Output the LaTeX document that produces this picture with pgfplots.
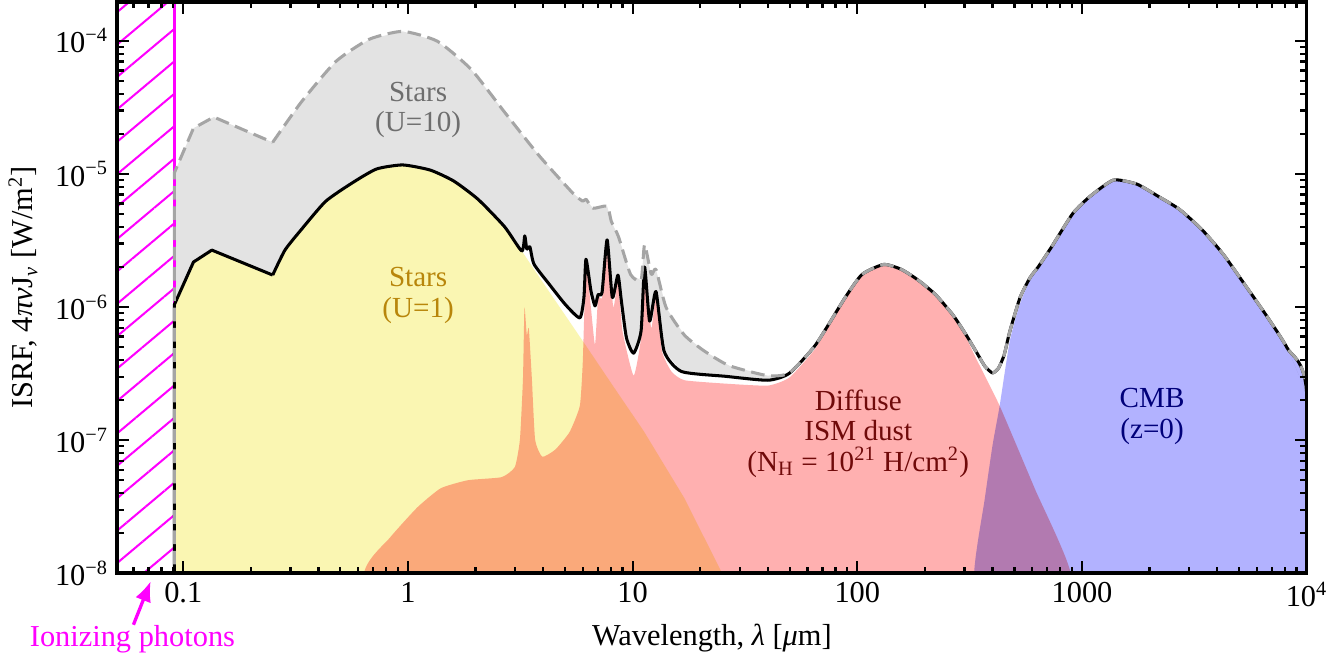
\documentclass[border=0pt]{standalone}
\usepackage{fontspec}
\setmainfont{Liberation Serif}
\usepackage{pgfplots}
\pgfplotsset{compat=1.18}
\usepackage{pgfplotstable}
\usetikzlibrary{patterns.meta,arrows.meta}

\definecolor{greyfill}{HTML}{E3E3E3}
\definecolor{greyline}{HTML}{A5A5A5}
\definecolor{starfill}{HTML}{FAF6B2}
\definecolor{dustfill}{HTML}{FFB0B0}
\definecolor{cmbfill}{HTML}{B2B2FF}
\definecolor{txtgrey}{HTML}{6E6E6E}
\definecolor{txtgold}{HTML}{B8860B}
\definecolor{txtdust}{HTML}{700A0A}
\definecolor{txtcmb}{HTML}{00007A}
\definecolor{mag}{RGB}{255,0,255}

% stellar ISRF, U=1
\pgfplotstableread{
x y
0.0912 1e-9
0.0912 1.04e-6
0.111 2.18e-6
0.134 2.68e-6
0.250 1.74e-6
0.2835 2.68e-6
0.335 3.82e-6
0.430 6.23e-6
0.564 8.56e-6
0.724 1.09e-5
0.948 1.17e-5
1.257 1.07e-5
1.598 8.86e-6
2.05 6.46e-6
2.69 4.02e-6
3.21 2.64e-6
3.84 1.68e-6
6.0 5.55e-7
8.47 2.34e-7
11.2 1.17e-7
17.0 3.66e-8
25.0 1.0e-8
33.0 1e-9
}\stars

% total, U=1
\pgfplotstableread{
x y
0.0912 1e-9
0.0912 1.04e-6
0.111 2.18e-6
0.134 2.68e-6
0.250 1.74e-6
0.2835 2.68e-6
0.335 3.82e-6
0.430 6.23e-6
0.564 8.56e-6
0.724 1.09e-5
0.948 1.17e-5
1.257 1.07e-5
1.598 8.86e-6
2.05 6.46e-6
2.69 4.02e-6
3.21 2.64e-6
3.31 3.43e-6
3.38 2.73e-6
3.49 2.83e-6
3.64 2.10e-6
4.26 1.48e-6
5.03 1.04e-6
5.82 8.3e-7
6.07 1.18e-6
6.2 2.29e-6
6.52 1.33e-6
6.80 1.02e-6
7.02 1.24e-6
7.31 1.29e-6
7.7 3.2e-6
8.12 1.18e-6
8.6 1.74e-6
8.91 1.11e-6
9.39 5.85e-7
10.1 4.5e-7
10.9 6.6e-7
11.3 2.0e-6
11.9 7.85e-7
12.7 1.31e-6
13.8 4.67e-7
16.5 3.28e-7
25.8 3.02e-7
40.0 2.82e-7
49.8 3.18e-7
65.2 5.2e-7
88.3 1.18e-6
105 1.76e-6
131 2.09e-6
157 1.92e-6
187 1.59e-6
223 1.24e-6
266 8.75e-7
302 6.35e-7
340 4.55e-7
370 3.58e-7
400 3.2e-7
425 3.48e-7
450 4.35e-7
477 6.55e-7
530 1.18e-6
588 1.67e-6
638 2.0e-6
731 2.82e-6
910 5.05e-6
1087 6.8e-6
1380 9.0e-6
1754 8.4e-6
2183 6.8e-6
2718 5.42e-6
3420 3.82e-6
4256 2.49e-6
5297 1.48e-6
6592 8.72e-7
8204 4.9e-7
10000 2.23e-7
10000 1e-9
}\totalone

% total, U=10
\pgfplotstableread{
x y
0.0912 1e-9
0.0912 1.02e-5
0.111 2.21e-5
0.1367 2.68e-5
0.250 1.73e-5
0.335 3.47e-5
0.478 7.02e-5
0.673 1.03e-4
0.948 1.18e-4
1.352 9.95e-5
1.91 6.12e-5
2.69 2.92e-5
3.84 1.37e-5
5.41 7.2e-6
6.0 6.25e-6
6.2 6.47e-6
6.66 5.53e-6
7.7 5.73e-6
8.04 4.4e-6
8.65 3.38e-6
9.79 1.76e-6
10.9 1.59e-6
11.3 2.94e-6
12.1 1.76e-6
12.7 1.92e-6
14.1 9.9e-7
17.0 6.16e-7
20.9 4.66e-7
26.9 3.63e-7
40.0 3.05e-7
49.8 3.2e-7
65.2 5.2e-7
88.3 1.18e-6
105 1.76e-6
131 2.09e-6
157 1.92e-6
187 1.59e-6
223 1.24e-6
266 8.75e-7
302 6.35e-7
340 4.55e-7
370 3.58e-7
400 3.2e-7
425 3.48e-7
450 4.35e-7
477 6.55e-7
530 1.18e-6
588 1.67e-6
638 2.0e-6
731 2.82e-6
910 5.05e-6
1087 6.8e-6
1380 9.0e-6
1754 8.4e-6
2183 6.8e-6
2718 5.42e-6
3420 3.82e-6
4256 2.49e-6
5297 1.48e-6
6592 8.72e-7
8204 4.9e-7
10000 2.23e-7
10000 1e-9
}\totalten

% diffuse ISM dust
\pgfplotstableread{
x y
0.638 1e-9
0.638 1.0e-8
0.829 1.84e-8
1.10 3.12e-8
1.40 4.35e-8
1.85 5.0e-8
2.61 5.27e-8
2.99 6.28e-8
3.15 1.01e-7
3.25 2.9e-7
3.30 9.9e-7
3.38 6.15e-7
3.45 6.95e-7
3.56 2.9e-7
3.68 1.01e-7
3.96 7.5e-8
4.53 8.5e-8
5.24 1.15e-7
5.82 1.81e-7
6.0 3.9e-7
6.2 2.1e-6
6.52 9.9e-7
6.80 5.2e-7
7.02 1.18e-6
7.31 1.18e-6
7.7 2.94e-6
8.20 1.0e-6
8.6 1.54e-6
9.01 6.6e-7
10.1 3.05e-7
10.9 5.85e-7
11.3 1.77e-6
12.1 6.95e-7
12.7 1.23e-6
13.5 4.67e-7
14.9 3.27e-7
17.0 2.82e-7
25.8 2.66e-7
40.0 2.57e-7
49.8 2.95e-7
65.2 4.9e-7
88.3 1.14e-6
105 1.71e-6
131 2.06e-6
157 1.88e-6
187 1.56e-6
223 1.21e-6
266 8.45e-7
302 6.1e-7
338 4.1e-7
430 1.81e-7
619 4.25e-8
891 1.0e-8
1000 1e-9
}\dust

% CMB
\pgfplotstableread{
x y
331 1e-9
331 1e-8
368 3.5e-8
400 9.2e-8
430 1.81e-7
477 5.55e-7
530 1.06e-6
588 1.59e-6
731 2.73e-6
910 4.98e-6
1087 6.72e-6
1380 8.95e-6
1754 8.35e-6
2183 6.75e-6
2718 5.38e-6
3420 3.79e-6
4256 2.47e-6
5297 1.46e-6
6592 8.6e-7
8204 4.85e-7
10000 2.2e-7
10000 1e-9
}\cmb

\begin{document}
\begin{tikzpicture}
\begin{axis}[
    xmode=log, ymode=log,
    scale only axis, width=469.6pt, height=225.6pt,
    xmin=0.0508, xmax=1e4, ymin=1e-8, ymax=1.97e-4,
    axis on top, clip mode=individual,
    xtick={0.1,1,10,100,1000,10000},
    xticklabels={0.1,1,10,100,1000,10\textsuperscript{4}},
    ytick={1e-8,1e-7,1e-6,1e-5,1e-4},
    yticklabels={10\textsuperscript{−8},10\textsuperscript{−7},10\textsuperscript{−6},10\textsuperscript{−5},10\textsuperscript{−4}},
    minor xtick={0.06,0.07,0.08,0.09,0.2,0.3,0.4,0.5,0.6,0.7,0.8,0.9,2,3,4,5,6,7,8,9,20,30,40,50,60,70,80,90,200,300,400,500,600,700,800,900,2000,3000,4000,5000,6000,7000,8000,9000},
    minor ytick={2e-8,3e-8,4e-8,5e-8,6e-8,7e-8,8e-8,9e-8,2e-7,3e-7,4e-7,5e-7,6e-7,7e-7,8e-7,9e-7,2e-6,3e-6,4e-6,5e-6,6e-6,7e-6,8e-6,9e-6,2e-5,3e-5,4e-5,5e-5,6e-5,7e-5,8e-5,9e-5},
    tick align=inside,
    major tick length=4.8pt, minor tick length=2.6pt,
    tick style={black, line width=0.9pt},
    axis line style={line width=1.4pt},
    ticklabel style={font=\fontsize{12}{14}\selectfont},
    label style={font=\fontsize{12}{14}\selectfont},
    xlabel={Wavelength, \textit{λ} [\textit{μ}m]},
    ylabel={ISRF, 4\textit{πν}J\textsubscript{\textit{ν}} [W/m\textsuperscript{2}]},
    blkln/.style={black, line width=1.2pt, line join=round},
    gryln/.style={color=greyline, line width=1.2pt, dash pattern=on 5.4pt off 2.6pt, line join=round},
]
% ionizing region
\addplot[draw=none, pattern={Lines[angle=40,distance=9.8pt,line width=0.8pt]}, pattern color=mag]
    coordinates {(0.03,1e-9) (0.0912,1e-9) (0.0912,1e-3) (0.03,1e-3)};
% fills
\addplot[draw=none, fill=greyfill] table[x=x,y=y] {\totalten};
\addplot[draw=none, fill=white] table[x=x,y=y] {\totalone};
\addplot[draw=none, fill=starfill, blend mode=multiply] table[x=x,y=y] {\stars};
\addplot[draw=none, fill=dustfill, blend mode=multiply, smooth, tension=0.3] table[x=x,y=y] {\dust};
\addplot[draw=none, fill=cmbfill, blend mode=multiply, smooth, tension=0.35] table[x=x,y=y] {\cmb};
% lines: sharp UV part, smooth beyond 0.25 micron
\addplot[mag, line width=1pt] coordinates {(0.0912,1e-9) (0.0912,1e-3)};
\addplot[blkln, skip coords between index={5}{200}] table[x=x,y=y] {\totalone};
\addplot[blkln, smooth, tension=0.35, skip coords between index={0}{4}] table[x=x,y=y] {\totalone};
\addplot[gryln, skip coords between index={5}{200}] table[x=x,y=y] {\totalten};
\addplot[gryln, smooth, tension=0.35, skip coords between index={0}{4}] table[x=x,y=y] {\totalten};

\node[text=txtgrey, align=center, font=\fontsize{11.5}{12}\selectfont] at (axis cs:1.11,3.03e-5) {Stars\\(U=10)};
\node[text=txtgold, align=center, font=\fontsize{11.5}{12}\selectfont] at (axis cs:1.11,1.22e-6) {Stars\\(U=1)};
\node[text=txtdust, align=center, font=\fontsize{11.5}{12}\selectfont] at (axis cs:101,1.12e-7) {Diffuse\\ISM dust\\(N\textsubscript{H} = 10\textsuperscript{21} H/cm\textsuperscript{2})};
\node[text=txtcmb, align=center, font=\fontsize{11.5}{12}\selectfont] at (axis cs:2051,1.51e-7) {CMB\\(z=0)};
\draw[mag, line width=1.3pt, -{Latex[length=8pt,width=6.5pt]}] (axis cs:0.060,4.1e-9) -- (axis cs:0.0716,8.7e-9);
\node[text=mag, font=\fontsize{12}{14}\selectfont] at (axis cs:0.0594,3.2e-9) {Ionizing photons};
\end{axis}
\end{tikzpicture}
\end{document}
